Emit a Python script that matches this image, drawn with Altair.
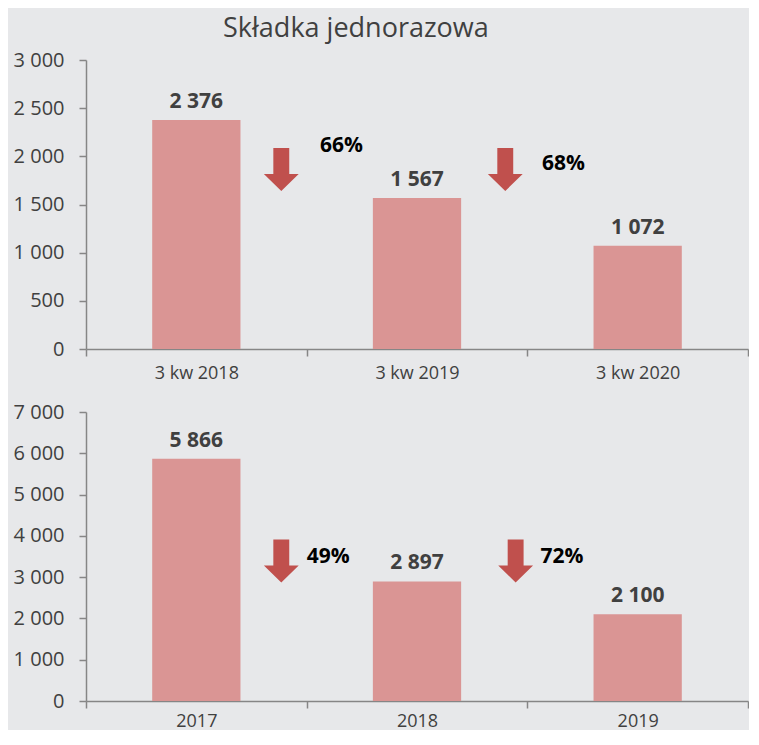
import altair as alt
import pandas as pd

# ---- data ----
TITLE = "Składka jednorazowa"
TOP_CATS = ["3 kw 2018", "3 kw 2019", "3 kw 2020"]
TOP_VALS = [2376, 1567, 1072]
BOT_CATS = ["2017", "2018", "2019"]
BOT_VALS = [5866, 2897, 2100]
TOP_PCT = ["66%", "68%"]
BOT_PCT = ["49%", "72%"]
TOP_ARROW_Y = [1863, 1863]
TOP_PCT_Y = [2107, 1920]
BOT_ARROW_Y = [3390, 3390]
BOT_PCT_Y = [3500, 3500]

# ---- layout / style ----
TOP_ARROW_BAND = [0.885, 0.90]      # within the left category's band
BOT_ARROW_BAND = [0.885, 0.947]
TOP_PCT_BAND = [0.06, 0.066]        # within the right category's band (text left edge)
BOT_PCT_BAND = [0.0, 0.06]
BG = "#e7e8ea"
BAR = "#da9594"
ARROW = "#c0504d"
AXIS = "#868686"
FONT = "Open Sans"
W, H = 662, 289
ARROW_PATH = "M -0.37 -1 L 0.37 -1 L 0.37 0.21 L 0.81 0.21 L 0 1 L -0.81 0.21 L -0.37 0.21 Z"


def panel(cats, vals, ymax, ystep, pcts, arrow_y, pct_y, arrow_band, pct_band, xpad):
    df = pd.DataFrame({"cat": cats, "v": vals})
    xscale = alt.Scale(domain=cats, paddingInner=0, paddingOuter=0)
    yscale = alt.Scale(domain=[0, ymax], nice=False)
    xax = alt.Axis(title=None, tickBand="extent", labelAngle=0, domainColor=AXIS,
                   tickColor=AXIS, domainWidth=1.5, tickWidth=1.5, tickSize=7,
                   labelFont=FONT, labelFontSize=18, labelColor="#404040",
                   labelPadding=xpad, grid=False)
    yax = alt.Axis(title=None, values=list(range(0, ymax + 1, ystep)), format=",d",
                   domainColor=AXIS, tickColor=AXIS, domainWidth=1.5, tickWidth=1.5,
                   tickSize=7, labelFont=FONT, labelFontSize=20, labelColor="#404040",
                   labelPadding=15, grid=False)
    base = alt.Chart(df)
    bars = base.mark_bar(color=BAR, width=alt.RelativeBandSize(0.4)).encode(
        x=alt.X("cat:N", scale=xscale, axis=xax, sort=cats),
        y=alt.Y("v:Q", scale=yscale, axis=yax),
    )
    labels = base.mark_text(font=FONT, fontSize=21, fontWeight="bold", color="#404040",
                            baseline="bottom", dy=-8).encode(
        x=alt.X("cat:N", sort=cats),
        y=alt.Y("v:Q"),
        text=alt.Text("v:Q", format=",d"),
    )
    layers = [bars, labels]
    for i, p in enumerate(pcts):
        adf = pd.DataFrame({"cat": [cats[i]], "ay": [arrow_y[i]]})
        pdf = pd.DataFrame({"cat": [cats[i + 1]], "py": [pct_y[i]], "t": [p]})
        arrow = alt.Chart(adf).mark_point(shape=ARROW_PATH, filled=True, color=ARROW,
                                          opacity=1, size=1849, strokeWidth=0).encode(
            x=alt.X("cat:N", sort=cats, bandPosition=arrow_band[i]),
            y=alt.Y("ay:Q"),
        )
        txt = alt.Chart(pdf).mark_text(font=FONT, fontSize=21, fontWeight="bold",
                                       color="#000000", align="left",
                                       baseline="middle").encode(
            x=alt.X("cat:N", sort=cats, bandPosition=pct_band[i]),
            y=alt.Y("py:Q"),
            text="t:N",
        )
        layers += [arrow, txt]
    return alt.layer(*layers).properties(width=W, height=H)


top = panel(TOP_CATS, TOP_VALS, 3000, 500, TOP_PCT, TOP_ARROW_Y, TOP_PCT_Y,
            TOP_ARROW_BAND, TOP_PCT_BAND, 8)
bot = panel(BOT_CATS, BOT_VALS, 7000, 1000, BOT_PCT, BOT_ARROW_Y, BOT_PCT_Y,
            BOT_ARROW_BAND, BOT_PCT_BAND, 4)

chart = alt.vconcat(top, bot, spacing=20).properties(
    title=alt.TitleParams(TITLE, font=FONT, fontSize=27, fontWeight="normal",
                          color="#404040", anchor="start", dx=210, offset=7),
    background=BG,
    padding={"left": 5, "top": 7, "right": 0, "bottom": 0},
).configure(
    locale=alt.Locale(number=alt.NumberLocale(decimal=",", thousands=" ",
                                              grouping=[3], currency=["", " zł"]))
).configure_view(stroke=None, strokeWidth=0).configure_axis(grid=False)

chart.save("out.html", embed_options={"renderer": "svg", "actions": False})
